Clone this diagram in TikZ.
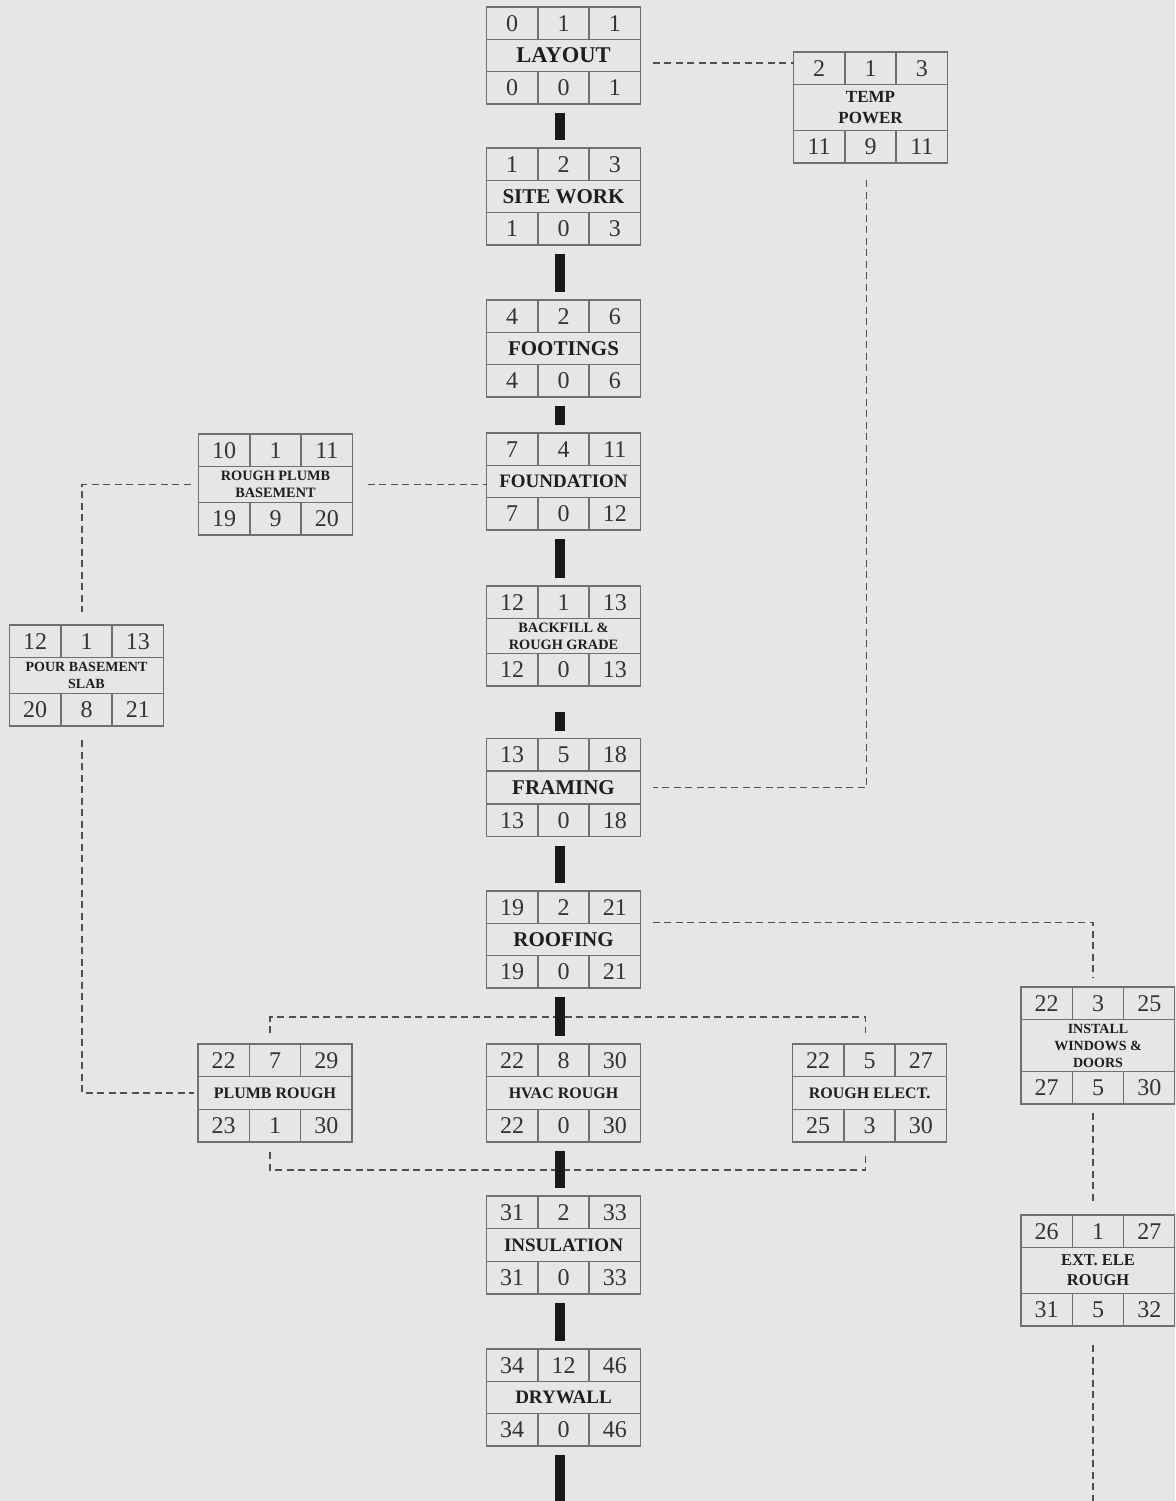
\documentclass[tikz,border=0pt]{standalone}
\usepackage{fontspec}
\setmainfont{Liberation Serif}
\usetikzlibrary{positioning}
\definecolor{paper}{HTML}{E6E6E6}
\definecolor{boxline}{HTML}{707070}
\definecolor{ink}{HTML}{1E1E1E}
\definecolor{numink}{HTML}{333333}
\definecolor{depgray}{HTML}{505050}
\tikzset{
  task/.style={draw=boxline, line width=1.6pt, minimum width=154pt,
               inner sep=1pt, outer sep=0pt, align=center, text=ink},
  cell/.style={draw=boxline, line width=1.6pt, minimum width=154pt/3,
               minimum height=32.5pt, inner sep=0pt, outer sep=0pt,
               font=\fontsize{24}{24}\selectfont, text=numink},
  crit/.style={line width=10pt, black!90, shorten <=9pt, shorten >=8pt},
  dep/.style={depgray, line width=1.8pt, dash pattern=on 7pt off 4.5pt},
}
% label row of an activity: name, centre, row height, font, text
\newcommand\activity[5]{%
  \node[task, minimum height=#3, font=#4] (#1) at #2 {#5};}
% early start / duration / early finish above, late start / float / late finish below
\newcommand\cells[7]{%
  \node[cell, anchor=south west] (#1-es) at (#1.north west) {#2};
  \node[cell, right=0pt of #1-es] (#1-d) {#3};
  \node[cell, right=0pt of #1-d] (#1-ef) {#4};
  \node[cell, anchor=north west] (#1-ls) at (#1.south west) {#5};
  \node[cell, right=0pt of #1-ls] (#1-f) {#6};
  \node[cell, right=0pt of #1-f] (#1-lf) {#7};}
\newcommand\bigfont{\fontsize{21}{24}\selectfont\bfseries}
\newcommand\midfont{\fontsize{19}{22}\selectfont\bfseries}
\newcommand\smallfont{\fontsize{16}{19}\selectfont\bfseries}
\newcommand\tinyfont{\fontsize{14.3}{17}\selectfont\bfseries}

\begin{document}
\begin{tikzpicture}[x=1pt, y=-1pt]
  \fill[paper] (0,0) rectangle (1175,1501);
  \useasboundingbox (0,0) rectangle (1175,1501);
  \clip (0,0) rectangle (1175,1501);

  % critical path
  \activity{layout}{(563.5,55.5)}{32pt}{\fontsize{22.5}{24}\selectfont\bfseries}{LAYOUT}
  \cells{layout}{0}{1}{1}{0}{0}{1}
  \activity{site}{(563.5,196.5)}{32pt}{\bigfont}{SITE WORK}
  \cells{site}{1}{2}{3}{1}{0}{3}
  \activity{footing}{(563.5,348.5)}{32pt}{\bigfont}{FOOTINGS}
  \cells{footing}{4}{2}{6}{4}{0}{6}
  \activity{foundation}{(563.5,481.5)}{32pt}{\midfont}{FOUNDATION}
  \cells{foundation}{7}{4}{11}{7}{0}{12}
  \activity{backfill}{(563.5,636)}{35pt}{\tinyfont}{BACKFILL \&\\ROUGH GRADE}
  \cells{backfill}{12}{1}{13}{12}{0}{13}
  \activity{framing}{(563.5,787.5)}{33pt}{\bigfont}{FRAMING}
  \cells{framing}{13}{5}{18}{13}{0}{18}
  \activity{roofing}{(563.5,939.5)}{32pt}{\bigfont}{ROOFING}
  \cells{roofing}{19}{2}{21}{19}{0}{21}
  \activity{hvac}{(563.5,1093)}{33pt}{\smallfont}{HVAC ROUGH}
  \cells{hvac}{22}{8}{30}{22}{0}{30}
  \activity{insul}{(563.5,1245)}{33pt}{\midfont}{INSULATION}
  \cells{insul}{31}{2}{33}{31}{0}{33}
  \activity{drywall}{(563.5,1397.5)}{32pt}{\midfont}{DRYWALL}
  \cells{drywall}{34}{12}{46}{34}{0}{46}

  % activities with float
  \activity{temp}{(870.5,107.5)}{46pt}{\fontsize{17}{21}\selectfont\bfseries}{TEMP\\POWER}
  \cells{temp}{2}{1}{3}{11}{9}{11}
  \activity{rpb}{(275.5,484.5)}{36pt}{\tinyfont}{ROUGH PLUMB\\BASEMENT}
  \cells{rpb}{10}{1}{11}{19}{9}{20}
  \activity{pour}{(86.5,675.5)}{36pt}{\fontsize{14}{17}\selectfont\bfseries}{POUR BASEMENT\\SLAB}
  \cells{pour}{12}{1}{13}{20}{8}{21}
  \activity{plumb}{(275,1093)}{33pt}{\smallfont}{PLUMB ROUGH}
  \cells{plumb}{22}{7}{29}{23}{1}{30}
  \activity{elect}{(869.5,1093)}{33pt}{\smallfont}{ROUGH ELECT.}
  \cells{elect}{22}{5}{27}{25}{3}{30}
  \activity{inst}{(1098,1045.5)}{52pt}{\fontsize{14}{17}\selectfont\bfseries}{INSTALL\\WINDOWS \&\\DOORS}
  \cells{inst}{22}{3}{25}{27}{5}{30}
  \activity{ext}{(1098,1270.5)}{46pt}{\fontsize{16.5}{20}\selectfont\bfseries}{EXT. ELE\\ROUGH}
  \cells{ext}{26}{1}{27}{31}{5}{32}

  % dependencies (dashed)
  \draw[dep] ([shift={(12,7.5)}]layout.east) coordinate (t0) -- (t0 -| temp.west);
  \draw[dep] ([shift={(-4,17)}]temp-f.south) |- ([xshift=12pt]framing.east);
  \draw[dep] ([xshift=15pt]rpb.east) coordinate (r0) -- (r0 -| foundation.west);
  \draw[dep] ([xshift=-8pt]rpb.west) -| ([shift={(-4.5,-13)}]pour-d.north);
  \draw[dep] ([shift={(-4.5,14)}]pour-f.south) |- ([xshift=-4pt]plumb.west);
  \draw[dep] ([shift={(12,-17)}]roofing.east) -| ([shift={(-5,-10)}]inst-d.north);
  \draw[dep] ([shift={(-5,9)}]inst-f.south) -- ([shift={(-5,-10)}]ext-d.north);
  \draw[dep] ([shift={(-5,19)}]ext-f.south) -- ++(0,180);
  \draw[dep] ([shift={(-5,-11)}]plumb-d.north) -- ++(0,-16) -| ([shift={(-4,-11)}]elect-d.north);
  \draw[dep] ([shift={(-5,10)}]plumb-f.south) -- ++(0,18) -| ([shift={(-4,10)}]elect-f.south);

  % critical links
  \draw[crit] ([xshift=-4pt]layout-f.south) -- ([xshift=-4pt]site-d.north);
  \draw[crit] ([xshift=-4pt]site-f.south) -- ([xshift=-4pt]footing-d.north);
  \draw[crit] ([xshift=-4pt]footing-f.south) -- ([xshift=-4pt]foundation-d.north);
  \draw[crit] ([xshift=-4pt]foundation-f.south) -- ([xshift=-4pt]backfill-d.north);
  \draw[crit, shorten <=26pt] ([xshift=-4pt]backfill-f.south) -- ([xshift=-4pt]framing-d.north);
  \draw[crit] ([xshift=-4pt]framing-f.south) -- ([xshift=-4pt]roofing-d.north);
  \draw[crit] ([xshift=-4pt]roofing-f.south) -- ([xshift=-4pt]hvac-d.north);
  \draw[crit] ([xshift=-4pt]hvac-f.south) -- ([xshift=-4pt]insul-d.north);
  \draw[crit] ([xshift=-4pt]insul-f.south) -- ([xshift=-4pt]drywall-d.north);
  \draw[crit, shorten >=0pt] ([xshift=-4pt]drywall-f.south) -- ++(0,80);
\end{tikzpicture}
\end{document}
